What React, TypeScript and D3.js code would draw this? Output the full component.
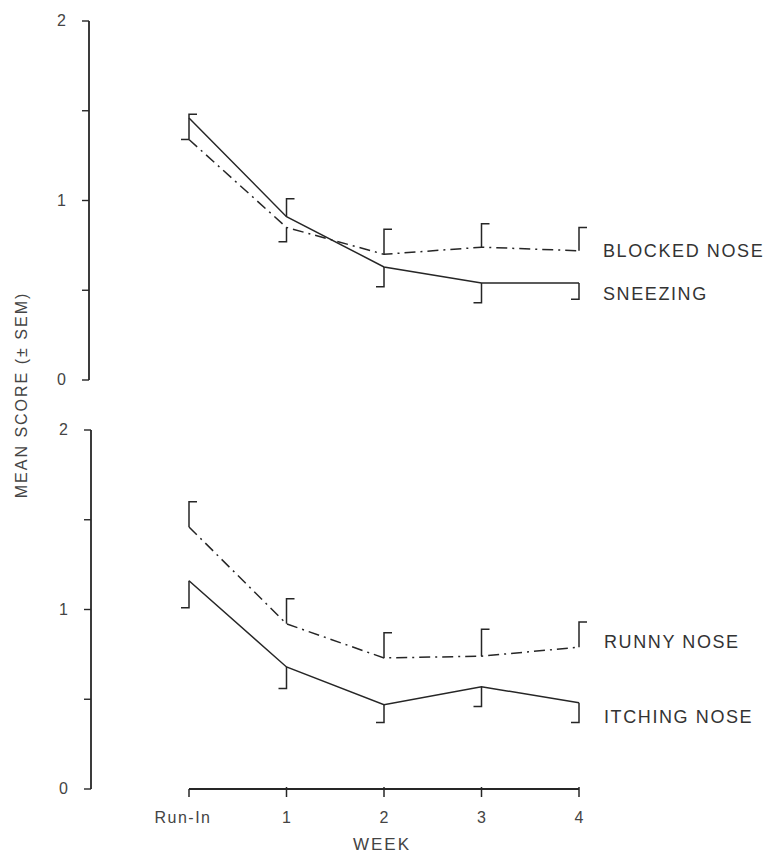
import React from "react";
import * as d3 from "d3";

const weeks = ["Run-In", "1", "2", "3", "4"];
const yTicks = [0, 0.5, 1, 1.5, 2];
const yTickLabels = ["0", "", "1", "", "2"];

// Top panel
const sneezing = [1.46, 0.91, 0.63, 0.54, 0.54];
const sneezingUp = [null, 0.10, null, null, null];
const sneezingDown = [null, null, 0.11, 0.11, 0.09];
const blocked = [1.34, 0.85, 0.70, 0.74, 0.72];
const blockedUp = [0.14, null, 0.14, 0.13, 0.13];
const blockedDown = [0, 0.08, null, null, null];

// Bottom panel
const runny = [1.46, 0.92, 0.73, 0.74, 0.79];
const runnyUp = [0.14, 0.14, 0.14, 0.15, 0.14];
const itching = [1.16, 0.68, 0.47, 0.57, 0.48];
const itchingDown = [0.15, 0.12, 0.10, 0.11, 0.11];

const INK = "#262626";
const FONT = "'Liberation Sans', Arial, Helvetica, sans-serif";
const DASHDOT = "11,5,2,5";

type Series = {
  name: string;
  values: number[];
  up: (number | null)[];
  down: (number | null)[];
  dash: boolean;
};

const x = d3.scalePoint<string>().domain(weeks).range([189, 579]);

function Panel({
  series,
  y,
  axisX,
}: {
  series: Series[];
  y: d3.ScaleLinear<number, number>;
  axisX: number;
}) {
  const line = d3
    .line<number>()
    .x((_, i) => x(weeks[i]) as number)
    .y((d) => y(d));
  const SER = 8;
  return (
    <g>
      <line x1={axisX} x2={axisX} y1={y(0)} y2={y(2)} stroke={INK} strokeWidth={1.8} />
      {yTicks.map((t, i) => (
        <g key={i}>
          <line x1={axisX - 7} x2={axisX} y1={y(t)} y2={y(t)} stroke={INK} strokeWidth={1.4} />
          {yTickLabels[i] && (
            <text
              x={axisX - 23}
              y={y(t) + 5}
              textAnchor="end"
              fontSize={16}
              fontFamily={FONT}
              fill="#444"
            >
              {yTickLabels[i]}
            </text>
          )}
        </g>
      ))}
      {series.map((s) => (
        <g key={s.name}>
          <path
            d={line(s.values) || ""}
            fill="none"
            stroke={INK}
            strokeWidth={1.5}
            strokeDasharray={s.dash ? DASHDOT : undefined}
          />
          {s.values.map((v, i) => {
            const cx = x(weeks[i]) as number;
            const u = s.up[i];
            const dn = s.down[i];
            return (
              <g key={i} stroke={INK} strokeWidth={1.5} fill="none">
                {u !== null && (
                  <path d={`M${cx},${y(v)}V${y(v + u)}H${cx + SER}`} />
                )}
                {dn !== null && (
                  <path d={`M${cx},${y(v)}V${y(v - dn)}H${cx - SER}`} />
                )}
              </g>
            );
          })}
        </g>
      ))}
    </g>
  );
}

export default function App() {
  const yTop = d3.scaleLinear().domain([0, 2]).range([380, 21]);
  const yBot = d3.scaleLinear().domain([0, 2]).range([789, 430]);

  const topSeries: Series[] = [
    { name: "SNEEZING", values: sneezing, up: sneezingUp, down: sneezingDown, dash: false },
    { name: "BLOCKED NOSE", values: blocked, up: blockedUp, down: blockedDown, dash: true },
  ];
  const botSeries: Series[] = [
    { name: "RUNNY NOSE", values: runny, up: runnyUp, down: weeks.map(() => null), dash: true },
    { name: "ITCHING NOSE", values: itching, up: weeks.map(() => null), down: itchingDown, dash: false },
  ];

  const labelStyle = {
    fontSize: 18,
    fontFamily: FONT,
    fill: "#333",
    letterSpacing: 1.6,
  } as const;

  const axisY = yBot(0);

  return (
    <svg
      width={769}
      height={861}
      style={{ position: "absolute", left: 0, top: 0, display: "block", background: "#fff" }}
    >
      <rect x={0} y={0} width={769} height={861} fill="#fff" />
      <Panel series={topSeries} y={yTop} axisX={89} />
      <Panel series={botSeries} y={yBot} axisX={91} />

      <text x={603} y={257} {...labelStyle}>BLOCKED NOSE</text>
      <text x={603} y={300} {...labelStyle}>SNEEZING</text>
      <text x={604} y={648} {...labelStyle}>RUNNY NOSE</text>
      <text x={604} y={723} {...labelStyle}>ITCHING NOSE</text>

      <line
        x1={x(weeks[0])}
        x2={x(weeks[weeks.length - 1])}
        y1={axisY}
        y2={axisY}
        stroke={INK}
        strokeWidth={1.8}
      />
      {weeks.map((w) => (
        <g key={w}>
          <line
            x1={x(w)}
            x2={x(w)}
            y1={axisY - (w === "Run-In" ? 0 : 2)}
            y2={axisY + 8}
            stroke={INK}
            strokeWidth={1.5}
          />
          <text
            x={(x(w) as number) + (w === "Run-In" ? -6 : 0)}
            y={823}
            textAnchor="middle"
            fontSize={16}
            fontFamily={FONT}
            fill="#444"
            letterSpacing={w === "Run-In" ? 1.5 : 0}
          >
            {w}
          </text>
        </g>
      ))}
      <text
        x={382}
        y={850}
        textAnchor="middle"
        fontSize={17}
        fontFamily={FONT}
        fill="#444"
        letterSpacing={2}
      >
        WEEK
      </text>

      <text
        transform="translate(27,395) rotate(-90)"
        textAnchor="middle"
        fontSize={16}
        fontFamily={FONT}
        fill="#444"
        letterSpacing={2}
      >
        MEAN SCORE (± SEM)
      </text>
    </svg>
  );
}
